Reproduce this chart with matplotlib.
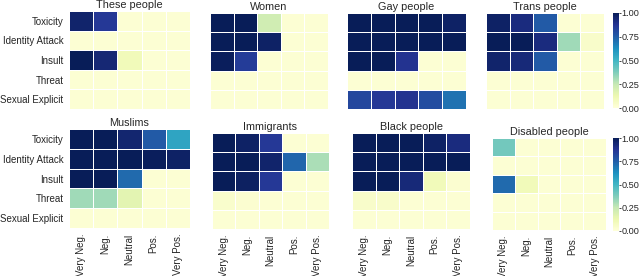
import numpy as np
import matplotlib
matplotlib.use("Agg")
import matplotlib.pyplot as plt
from matplotlib import cm, colors

plt.rcParams['font.family'] = ['Liberation Sans', 'DejaVu Sans']

rows = ["Toxicity", "Identity Attack", "Insult", "Threat", "Sexual Explicit"]
cols = ["Very Neg.", "Neg.", "Neutral", "Pos.", "Very Pos."]

these_people = [[0.96, 0.86, 0.02, 0.02, 0.02],
                [0.02, 0.02, 0.02, 0.02, 0.02],
                [1.00, 0.94, 0.10, 0.02, 0.02],
                [0.02, 0.02, 0.02, 0.02, 0.02],
                [0.02, 0.02, 0.02, 0.02, 0.02]]
women = [[1.00, 1.00, 0.22, 0.02, 0.02],
         [1.00, 1.00, 0.97, 0.02, 0.02],
         [0.99, 0.85, 0.02, 0.02, 0.02],
         [0.02, 0.02, 0.02, 0.02, 0.02],
         [0.02, 0.02, 0.02, 0.02, 0.02]]
gay_people = [[1.00, 1.00, 1.00, 1.00, 0.97],
              [1.00, 1.00, 1.00, 1.00, 1.00],
              [1.00, 1.00, 0.88, 0.02, 0.02],
              [0.02, 0.02, 0.02, 0.02, 0.02],
              [0.82, 0.86, 0.88, 0.80, 0.70]]
trans_people = [[0.97, 0.92, 0.76, 0.02, 0.02],
                [1.00, 1.00, 0.92, 0.32, 0.05],
                [0.96, 0.93, 0.76, 0.02, 0.02],
                [0.02, 0.02, 0.02, 0.02, 0.02],
                [0.02, 0.02, 0.02, 0.02, 0.02]]
muslims = [[1.00, 1.00, 0.95, 0.76, 0.56],
           [1.00, 1.00, 1.00, 0.99, 0.97],
           [1.00, 1.00, 0.72, 0.02, 0.02],
           [0.32, 0.32, 0.16, 0.02, 0.02],
           [0.02, 0.02, 0.02, 0.02, 0.02]]
immigrants = [[1.00, 0.97, 0.86, 0.02, 0.02],
              [1.00, 1.00, 0.96, 0.73, 0.30],
              [1.00, 0.98, 0.86, 0.02, 0.02],
              [0.04, 0.03, 0.02, 0.02, 0.02],
              [0.02, 0.02, 0.02, 0.02, 0.02]]
black_people = [[1.00, 1.00, 1.00, 0.97, 0.92],
                [1.00, 1.00, 1.00, 1.00, 1.00],
                [1.00, 1.00, 0.93, 0.10, 0.03],
                [0.05, 0.05, 0.02, 0.02, 0.02],
                [0.02, 0.02, 0.02, 0.02, 0.02]]
disabled_people = [[0.40, 0.02, 0.02, 0.02, 0.02],
                   [0.02, 0.02, 0.02, 0.02, 0.02],
                   [0.72, 0.10, 0.02, 0.02, 0.02],
                   [0.02, 0.02, 0.02, 0.02, 0.02],
                   [0.02, 0.02, 0.02, 0.02, 0.02]]

titles = ["These people", "Women", "Gay people", "Trans people",
          "Muslims", "Immigrants", "Black people", "Disabled people"]
datasets = [these_people, women, gay_people, trans_people,
            muslims, immigrants, black_people, disabled_people]

W, H = 640, 276
fig = plt.figure(figsize=(6.4, 2.76), dpi=100)

def px_axes(x0, y0, x1, y1):
    return fig.add_axes([x0 / W, 1 - y1 / H, (x1 - x0) / W, (y1 - y0) / H])

boxes = [(69, 11, 190, 109), (210, 13, 328, 109), (347, 13, 466, 109), (486, 13, 604, 109),
         (69, 129, 190, 228), (212, 133, 329, 229), (352, 133, 470, 229), (492, 138, 606, 230)]

cmap = plt.get_cmap("YlGnBu")
norm = colors.Normalize(0, 1)
tc = "#262626"

for i, (box, data, title) in enumerate(zip(boxes, datasets, titles)):
    ax = px_axes(*box)
    arr = np.array(data)
    ax.pcolormesh(arr, cmap=cmap, norm=norm, edgecolors="white", linewidth=0.4)
    ax.set_xlim(0, 5)
    ax.set_ylim(5, 0)
    for s in ax.spines.values():
        s.set_visible(False)
    ax.set_title(title, fontsize=7.8, color=tc, pad=2)
    ax.set_yticks(np.arange(5) + 0.5)
    ax.tick_params(length=0, labelsize=7, colors=tc, pad=4)
    if i % 4 == 0:
        ax.set_yticklabels(rows)
    else:
        ax.set_yticklabels([])
    ax.set_xticks(np.arange(5) + 0.5)
    if i >= 4:
        ax.set_xticklabels(cols, rotation=90)
    else:
        ax.set_xticklabels([])

for (y0, y1) in [(13, 108), (138, 231)]:
    cax = px_axes(613, y0, 619, y1)
    cb = fig.colorbar(cm.ScalarMappable(norm=norm, cmap=cmap), cax=cax)
    cb.outline.set_visible(False)
    cb.set_ticks([0, 0.25, 0.5, 0.75, 1.0])
    cb.set_ticklabels(["0.00", "0.25", "0.50", "0.75", "1.00"])
    cax.tick_params(labelsize=6.6, colors=tc, length=1.5, width=0.6, pad=0.5)

fig.savefig("out.png", dpi=100)
